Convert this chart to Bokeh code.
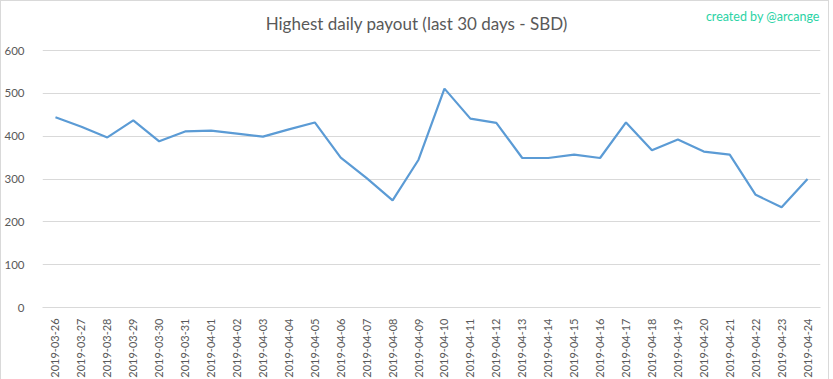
from bokeh.plotting import figure
from bokeh.models import ColumnDataSource, FactorRange, Range1d, Label, FixedTicker
from bokeh.embed import file_html
from bokeh.resources import INLINE
import math

dates = ["2019-03-26", "2019-03-27", "2019-03-28", "2019-03-29", "2019-03-30",
         "2019-03-31", "2019-04-01", "2019-04-02", "2019-04-03", "2019-04-04",
         "2019-04-05", "2019-04-06", "2019-04-07", "2019-04-08", "2019-04-09",
         "2019-04-10", "2019-04-11", "2019-04-12", "2019-04-13", "2019-04-14",
         "2019-04-15", "2019-04-16", "2019-04-17", "2019-04-18", "2019-04-19",
         "2019-04-20", "2019-04-21", "2019-04-22", "2019-04-23", "2019-04-24"]
payout = [444, 422, 397, 437, 388, 411, 413, 406, 399, 416,
          432, 350, 302, 250, 345, 511, 441, 431, 349, 349,
          357, 349, 432, 367, 392, 364, 357, 263, 234, 300]
y_ticks = [0, 100, 200, 300, 400, 500, 600]

FONT = "Lato"
GRID = "#d9d9d9"
TXT = "#595959"

src = ColumnDataSource(dict(d=dates, v=payout))

# the frame extends above the 600 gridline so the title texts sit inside it
p = figure(width=817, height=371, output_backend="svg", toolbar_location=None,
           x_range=FactorRange(*dates, range_padding=0), y_range=Range1d(0, 700.4),
           frame_width=778, frame_height=300,
           min_border_left=31, min_border_right=8, min_border_top=6, min_border_bottom=60)
p.line("d", "v", source=src, line_color="#5b9bd5", line_width=2.2)

p.outline_line_color = None
p.background_fill_color = "white"
p.border_fill_color = "white"

p.xgrid.grid_line_color = None
p.ygrid.ticker = FixedTicker(ticks=y_ticks)
p.ygrid.grid_line_color = GRID
p.ygrid.grid_line_width = 1

p.yaxis.ticker = FixedTicker(ticks=y_ticks)
p.yaxis.axis_line_color = None
p.yaxis.major_tick_line_color = None
p.yaxis.minor_tick_line_color = None
p.yaxis.major_label_text_color = TXT
p.yaxis.major_label_text_font = FONT
p.yaxis.major_label_text_font_size = "11.5px"
p.yaxis.major_label_standoff = 12

p.xaxis.axis_line_color = GRID
p.xaxis.major_tick_line_color = None
p.xaxis.minor_tick_line_color = None
p.xaxis.major_label_orientation = math.pi / 2
p.xaxis.major_label_text_color = TXT
p.xaxis.major_label_text_font = FONT
p.xaxis.major_label_text_font_size = "11px"
p.xaxis.major_label_standoff = 5

p.add_layout(Label(x=14.43, y=663,
                   text="Highest daily payout (last 30 days - SBD)",
                   text_font=FONT, text_font_size="17px", text_color=TXT,
                   text_align="center", text_baseline="middle"))
p.add_layout(Label(x=29.97, y=679,
                   text="created by @arcange",
                   text_font=FONT, text_font_size="12.5px", text_color="#2bd3a5",
                   text_align="right", text_baseline="middle"))

p.styles = {"border": "1px solid #d9d9d9"}

open("out.html", "w").write(file_html(p, INLINE))
